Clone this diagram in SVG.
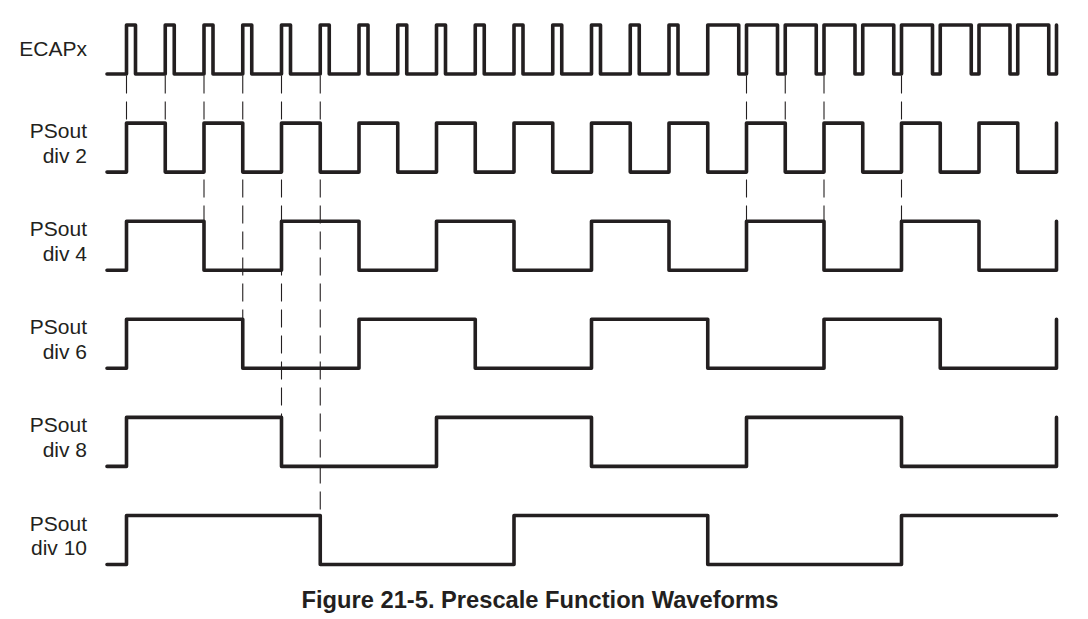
<svg xmlns="http://www.w3.org/2000/svg" width="1088" height="619" viewBox="0 0 1088 619">
<style>
.wave{fill:none;stroke:#231f20;stroke-width:3.6;stroke-linejoin:round;stroke-linecap:round}
.dash{fill:none;stroke:#231f20;stroke-width:1.1;stroke-dasharray:18 8}
.lbl{font-family:"Liberation Sans",Arial,sans-serif;font-size:21px;fill:#231f20;text-anchor:end}
.title{font-family:"Liberation Sans",Arial,sans-serif;font-size:23.7px;font-weight:bold;fill:#231f20;text-anchor:middle}
</style>
<rect width="1088" height="619" fill="#fff"/>
<g id="connectors">
<path class="dash" d="M126.5 75.5V123.1M165.25 75.5V123.1M204 75.5V221.2M242.75 75.5V319.3M281.5 75.5V417.4M320.25 75.5V515.5M746.5 75.5V221.2M785.25 75.5V123.1M824 75.5V221.2M901.5 75.5V221.2"/>
</g>
<g id="ecapx">
<text class="lbl" x="87" y="56">ECAPx</text>
<path class="wave" d="M107 74H126.5V25H135.5V74H165.25V25H174.25V74H204V25H213V74H242.75V25H251.75V74H281.5V25H290.5V74H320.25V25H329.25V74H359V25H368V74H397.75V25H406.75V74H436.5V25H445.5V74H475.25V25H484.25V74H514V25H523V74H552.75V25H561.75V74H591.5V25H600.5V74H630.25V25H639.25V74H669V25H678V74H707.75V25H738.75V74H746.5V25H777.5V74H785.25V25H816.25V74H824V25H855V74H862.75V25H893.75V74H901.5V25H932.5V74H940.25V25H971.25V74H979V25H1010V74H1017.75V25H1048.75V74H1056.5V25"/>
</g>
<g id="div2" transform="translate(0,98.1)">
<text class="lbl" x="87" y="40">PSout</text>
<text class="lbl" x="87" y="64.5">div 2</text>
<path class="wave" d="M107 74H126.5V25H165.25V74H204V25H242.75V74H281.5V25H320.25V74H359V25H397.75V74H436.5V25H475.25V74H514V25H552.75V74H591.5V25H630.25V74H669V25H707.75V74H746.5V25H785.25V74H824V25H862.75V74H901.5V25H940.25V74H979V25H1017.75V74H1056.5V25"/>
</g>
<g id="div4" transform="translate(0,196.2)">
<text class="lbl" x="87" y="40">PSout</text>
<text class="lbl" x="87" y="64.5">div 4</text>
<path class="wave" d="M107 74H126.5V25H204V74H281.5V25H359V74H436.5V25H514V74H591.5V25H669V74H746.5V25H824V74H901.5V25H979V74H1056.5V25"/>
</g>
<g id="div6" transform="translate(0,294.3)">
<text class="lbl" x="87" y="40">PSout</text>
<text class="lbl" x="87" y="64.5">div 6</text>
<path class="wave" d="M107 74H126.5V25H242.75V74H359V25H475.25V74H591.5V25H707.75V74H824V25H940.25V74H1056.5V25"/>
</g>
<g id="div8" transform="translate(0,392.4)">
<text class="lbl" x="87" y="40">PSout</text>
<text class="lbl" x="87" y="64.5">div 8</text>
<path class="wave" d="M107 74H126.5V25H281.5V74H436.5V25H591.5V74H746.5V25H901.5V74H1056.5V25"/>
</g>
<g id="div10" transform="translate(0,490.5)">
<text class="lbl" x="87" y="40">PSout</text>
<text class="lbl" x="87" y="64.5">div 10</text>
<path class="wave" d="M107 74H126.5V25H320.25V74H514V25H707.75V74H901.5V25H1056.5"/>
</g>
<text class="title" x="540" y="608">Figure 21-5. Prescale Function Waveforms</text>
</svg>
